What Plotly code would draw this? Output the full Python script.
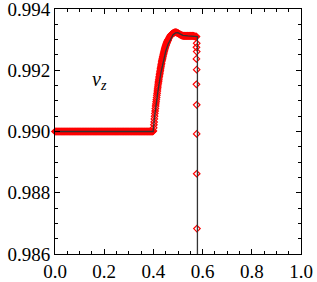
import plotly.graph_objects as go

# numerical solution (red diamonds)
x_flat = [round(0.0025 * i, 4) for i in range(0, 160)]
v_flat = [0.9900] * len(x_flat)

# steep part, read every 0.001 from x = 0.400 to 0.460
v_steep = [0.99002, 0.99012, 0.99022, 0.99031, 0.99041, 0.99050, 0.99059, 0.99067, 0.99075, 0.99083,
           0.99090, 0.99097, 0.99104, 0.99111, 0.99118, 0.99125, 0.99132, 0.99139, 0.99145, 0.99152,
           0.99158, 0.99164, 0.99169, 0.99175, 0.99180, 0.99185, 0.99190, 0.99195, 0.99200, 0.99205,
           0.99210, 0.99214, 0.99219, 0.99223, 0.99228, 0.99232, 0.99236, 0.99239, 0.99243, 0.99246,
           0.99250, 0.99253, 0.99256, 0.99260, 0.99263, 0.99266, 0.99269, 0.99272, 0.99275, 0.99277,
           0.99280, 0.99282, 0.99284, 0.99287, 0.99289, 0.99291, 0.99293, 0.99295, 0.99297, 0.99298,
           0.99300]
x_steep = [round(0.400 + 0.001 * i, 4) for i in range(len(v_steep))]

# hump and plateau, read every 0.0025 from x = 0.4625 to 0.575
v_top = [0.99304, 0.99308, 0.99311, 0.99314, 0.99316, 0.99318, 0.99320, 0.99321, 0.99322, 0.99323,
         0.99324, 0.99324, 0.99324, 0.99323, 0.99322, 0.99321, 0.99320, 0.99318, 0.99317, 0.99316,
         0.99315, 0.99314, 0.99313, 0.99313, 0.99312, 0.99312, 0.99312, 0.99312, 0.99312, 0.99312,
         0.99312, 0.99312, 0.99312, 0.99312, 0.99312, 0.99312, 0.99312, 0.99312, 0.99312, 0.99312,
         0.99312, 0.99311, 0.99311, 0.99310, 0.99310, 0.99310]
x_top = [round(0.4625 + 0.0025 * i, 4) for i in range(len(v_top))]

x_drop = [0.576, 0.575, 0.576, 0.575, 0.576, 0.575, 0.576, 0.576, 0.576, 0.577]
v_drop = [0.99288, 0.99275, 0.99261, 0.99237, 0.99202, 0.99154, 0.99087, 0.98992, 0.98862, 0.98683]

x_num = x_flat + x_steep + x_top + x_drop
v_num = v_flat + v_steep + v_top + v_drop

# reference solution (black line)
x_ref = [0.0, 0.399, 0.405, 0.412, 0.420, 0.430, 0.440, 0.450, 0.460, 0.470,
         0.480, 0.490, 0.500, 0.510, 0.520, 0.540, 0.560, 0.579, 0.579, 1.0]
v_ref = [0.9900, 0.9900, 0.99050, 0.99095, 0.99140, 0.99190, 0.99230, 0.99262, 0.99286, 0.99304,
         0.99316, 0.99322, 0.99323, 0.99318, 0.99314, 0.99312, 0.99312, 0.99310, 0.9800, 0.9800]

x_ticks = [0.0, 0.2, 0.4, 0.6, 0.8, 1.0]
x_labels = ["0.0", "0.2", "0.4", "0.6", "0.8", "1.0"]
y_ticks = [0.986, 0.988, 0.990, 0.992, 0.994]
y_labels = ["0.986", "0.988", "0.990", "0.992", "0.994"]

FONT = "Liberation Serif"

fig = go.Figure()
fig.add_trace(go.Scatter(x=x_num, y=v_num, mode="markers",
                         marker=dict(symbol="diamond-open", size=5, color="#ff0000",
                                     line=dict(width=1.2, color="#ff0000")),
                         cliponaxis=False, showlegend=False))
fig.add_trace(go.Scatter(x=x_ref, y=v_ref, mode="lines",
                         line=dict(color="#333333", width=1.3), showlegend=False))

fig.add_annotation(x=0.18, y=0.99165, text="<i>v</i><sub><i>z</i></sub>",
                   showarrow=False, font=dict(size=20, color="black", family=FONT))

axis_common = dict(showgrid=False, zeroline=False, showline=True, linecolor="black",
                   linewidth=1, mirror="allticks", ticks="inside", ticklen=5,
                   tickcolor="black", tickwidth=1, automargin=False,
                   ticklabeloverflow="allow",
                   tickfont=dict(family=FONT, size=19, color="black"))

fig.update_xaxes(range=[0, 1], tickvals=x_ticks, ticktext=x_labels,
                 minor=dict(dtick=0.05, tick0=0, ticks="inside", ticklen=3,
                            tickcolor="black", tickwidth=1),
                 **axis_common)
fig.update_yaxes(range=[0.986, 0.994], tickvals=y_ticks, ticktext=y_labels,
                 minor=dict(dtick=0.0005, tick0=0.986, ticks="inside", ticklen=3,
                            tickcolor="black", tickwidth=1),
                 **axis_common)

fig.update_layout(width=317, height=282,
                  margin=dict(l=55, r=16, t=9, b=28),
                  font=dict(family=FONT),
                  plot_bgcolor="white", paper_bgcolor="white")

fig.write_html("out.html", config={"displayModeBar": False},
               post_script="document.body.style.margin='0';document.body.style.padding='0';")
